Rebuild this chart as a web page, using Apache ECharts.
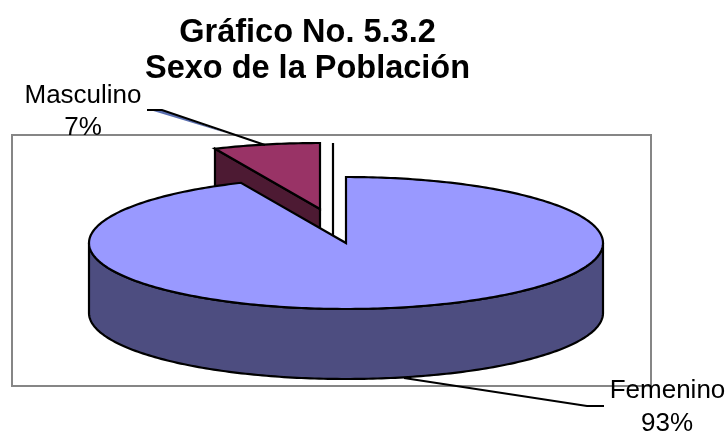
<!DOCTYPE html>
<html>
<head>
<meta charset="utf-8">
<title>Sexo de la Población</title>
<script src="https://cdn.jsdelivr.net/npm/echarts@6/dist/echarts.min.js"></script>
<style>
html,body{margin:0;padding:0;background:#fff;}
#main{width:728px;height:435px;}
</style>
</head>
<body>
<div id="main"></div>
<script>
var categories = ['Masculino', 'Femenino'];
var values = [6.7, 93.3];

var topColors = ['#993366', '#9999ff'];
var sideColors = ['#4d1a33', '#4d4d80'];

// pie geometry
var cx = 346, cy = 243, rx = 257, ry = 66, depth = 70;
var offX = [-26, 0], offY = [-34, 0];
var font = '26px "Liberation Sans", Arial, sans-serif';

var total = values.reduce(function(a,b){return a+b;},0);
var startAngles = [];
var acc = -values[0]/total*360;
values.forEach(function(v){
    startAngles.push(acc);
    acc += v/total*360;
});

function pt(i,deg,dz){
    var a = deg*Math.PI/180;
    return [cx+offX[i]+rx*Math.sin(a), cy+offY[i]-ry*Math.cos(a)+(dz||0)];
}

function arc(i,from,to,dz){
    var pts = [];
    var n = Math.max(2,Math.ceil(Math.abs(to-from)));
    for(var k=0;k<=n;k++){
        pts.push(pt(i,from+(to-from)*k/n,dz));
    }
    return pts;
}

function poly(points,fill){
    return {
        type:'polygon',
        shape:{points:points},
        style:{fill:fill,stroke:'#000',lineWidth:2.2,lineJoin:'miter'}
    };
}

function line(points){
    return {
        type:'polyline',
        shape:{points:points},
        style:{fill:null,stroke:'#000',lineWidth:2}
    };
}

function label(text,x,y){
    return {
        type:'text',
        style:{text:text,x:x,y:y,fill:'#000',font:font,align:'center',verticalAlign:'middle'}
    };
}

function renderItem(params,api){
    var i = params.dataIndex;
    var s = startAngles[i];
    var e = s+api.value(0)/total*360;
    var apex = [cx+offX[i],cy+offY[i]];
    var pct = Math.round(api.value(0))+'%';
    var children = [];

    if(i==0){
        // linea vertical detras del sector
        children.push({type:'line',shape:{x1:333,y1:143,x2:333,y2:243},style:{stroke:'#000',lineWidth:2.2}});
    }

    // cara del corte
    if(Math.sin(s*Math.PI/180)<-0.01){
        var c = pt(i,s);
        var c2 = pt(i,s,depth);
        children.push(poly([c,apex,[apex[0],apex[1]+depth],c2],sideColors[i]));
    }
    // pared exterior
    var w1 = Math.max(s,90), w2 = Math.min(e,270);
    if(w2>w1){
        var wall = arc(i,w1,w2,0).concat(arc(i,w2,w1,depth));
        children.push(poly(wall,sideColors[i]));
    }
    // tapa
    children.push(poly([apex].concat(arc(i,s,e,0)),topColors[i]));

    if(i==0){
        children.push(poly([[150,110],[162,110],[226,133]],'#5a6fb0'));
        children[children.length-1].style.lineWidth = 0;
        children.push(line([[147,110],[162,110],[265,145]]));
        children.push(label(categories[i],83,96));
        children.push(label(pct,83,128));
    }else{
        children.push(line([[404,378],[587,406],[604,406]]));
        children.push(label(categories[i],667.5,391));
        children.push(label(pct,667,424));
    }
    return {type:'group',children:children};
}

var chart = echarts.init(document.getElementById('main'),null,{renderer:'canvas'});
chart.setOption({
    animation:false,
    backgroundColor:'#fff',
    title:{
        text:'Gráfico No. 5.3.2\nSexo de la Población',
        left:307.5,
        top:15,
        padding:0,
        itemGap:0,
        textAlign:'center',
        textStyle:{
            color:'#000',
            fontFamily:'"Liberation Sans", Arial, sans-serif',
            fontSize:32.5,
            fontWeight:'bold',
            lineHeight:36,
            align:'center'
        }
    },
    grid:{show:true,left:12,top:135,width:639,height:251,borderColor:'#868686',borderWidth:2,backgroundColor:'transparent'},
    xAxis:{show:false,type:'value'},
    yAxis:{show:false,type:'value'},
    series:[{
        type:'custom',
        coordinateSystem:'none',
        renderItem:renderItem,
        data:values.map(function(v){return [v];}),
        clip:false
    }]
});
</script>
</body>
</html>
